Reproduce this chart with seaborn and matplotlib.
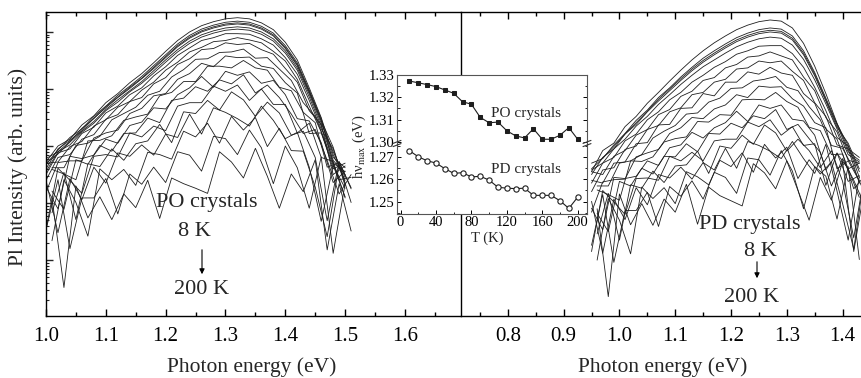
import numpy as np
import pandas as pd
import matplotlib
matplotlib.use("Agg")
import matplotlib.pyplot as plt
import seaborn as sns
from matplotlib.ticker import MultipleLocator, LogLocator, NullFormatter, FormatStrFormatter

# ---------------- data ----------------
temps = [8, 20, 30, 40, 50, 60, 70, 80, 90, 100, 110, 120, 130, 140, 150, 160, 170, 180, 190, 200]

po_energy_a = [1.00, 1.02, 1.04, 1.06, 1.08, 1.10, 1.12, 1.14, 1.16, 1.18, 1.20, 1.22, 1.24,
               1.26, 1.28, 1.30, 1.32, 1.34, 1.36, 1.38, 1.40, 1.42, 1.44, 1.46, 1.48, 1.50]
po_energy_b = [1.01, 1.03, 1.05, 1.07, 1.09, 1.11, 1.13, 1.15, 1.17, 1.19, 1.21, 1.23, 1.25,
               1.27, 1.29, 1.31, 1.33, 1.35, 1.37, 1.39, 1.41, 1.43, 1.45, 1.47, 1.49, 1.51]

# log10 of PL intensity, one row per temperature (PO crystals)
po_log = [
    [2.72, 3.00, 3.12, 3.37, 3.53, 3.76, 3.92, 4.11, 4.27, 4.46, 4.66, 4.85, 5.00, 5.11, 5.18, 5.23, 5.25, 5.23, 5.16, 5.04, 4.82, 4.51, 4.02, 3.50, 2.85, 2.40],
    [2.68, 2.93, 3.15, 3.30, 3.52, 3.70, 3.89, 4.05, 4.22, 4.41, 4.60, 4.79, 4.94, 5.05, 5.12, 5.17, 5.19, 5.17, 5.10, 4.98, 4.76, 4.46, 3.98, 3.48, 2.70, 2.55],
    [2.78, 2.90, 3.08, 3.31, 3.48, 3.69, 3.86, 4.03, 4.19, 4.38, 4.57, 4.76, 4.91, 5.02, 5.09, 5.14, 5.16, 5.14, 5.07, 4.95, 4.73, 4.43, 3.96, 3.45, 2.98, 2.30],
    [2.60, 2.95, 3.10, 3.27, 3.49, 3.67, 3.85, 4.01, 4.18, 4.36, 4.55, 4.74, 4.89, 5.00, 5.07, 5.12, 5.14, 5.12, 5.05, 4.93, 4.71, 4.41, 3.94, 3.44, 2.80, 2.62],
    [2.70, 2.86, 3.07, 3.26, 3.43, 3.64, 3.81, 3.97, 4.13, 4.32, 4.51, 4.69, 4.84, 4.95, 5.02, 5.07, 5.09, 5.07, 5.00, 4.88, 4.67, 4.37, 3.91, 3.40, 2.90, 2.45],
    [2.55, 2.90, 3.02, 3.24, 3.40, 3.62, 3.77, 3.95, 4.10, 4.28, 4.47, 4.65, 4.80, 4.91, 4.98, 5.03, 5.05, 5.03, 4.96, 4.84, 4.63, 4.33, 3.86, 3.35, 2.75, 2.50],
    [2.50, 2.88, 2.95, 3.22, 3.33, 3.58, 3.70, 3.90, 4.02, 4.23, 4.39, 4.59, 4.72, 4.85, 4.90, 4.97, 4.97, 4.96, 4.88, 4.77, 4.55, 4.26, 3.80, 3.30, 2.95, 2.35],
    [2.70, 2.72, 2.99, 3.08, 3.35, 3.46, 3.68, 3.78, 3.98, 4.12, 4.33, 4.47, 4.65, 4.73, 4.83, 4.85, 4.90, 4.86, 4.81, 4.66, 4.49, 4.17, 3.70, 3.25, 2.60, 2.70],
    [2.40, 2.80, 2.85, 3.12, 3.20, 3.47, 3.55, 3.78, 3.85, 4.09, 4.20, 4.43, 4.53, 4.69, 4.71, 4.81, 4.78, 4.80, 4.69, 4.61, 4.36, 4.12, 3.62, 3.38, 2.50, 2.65],
    [2.62, 2.62, 3.01, 3.05, 3.17, 3.46, 3.57, 3.68, 3.89, 3.96, 4.21, 4.34, 4.52, 4.53, 4.64, 4.65, 4.70, 4.54, 4.55, 4.35, 4.15, 3.76, 3.52, 2.99, 2.41, 2.45],
    [2.19, 2.71, 2.74, 2.74, 3.14, 3.23, 3.28, 3.57, 3.66, 3.88, 3.92, 4.17, 4.27, 4.45, 4.39, 4.58, 4.55, 4.56, 4.40, 4.36, 4.11, 3.93, 3.22, 3.23, 2.66, 2.26],
    [2.59, 2.51, 2.41, 3.09, 3.10, 3.18, 3.45, 3.51, 3.56, 3.88, 3.94, 4.13, 4.13, 4.40, 4.40, 4.37, 4.50, 4.37, 4.33, 4.03, 3.97, 3.59, 3.41, 2.63, 2.71, 2.27],
    [2.28, 1.90, 2.82, 2.78, 2.84, 3.12, 3.05, 3.36, 3.42, 3.67, 3.65, 3.90, 4.02, 4.22, 4.03, 4.31, 4.24, 4.30, 4.10, 4.15, 3.90, 3.48, 3.44, 3.06, 2.36, 2.56],
    [2.21, 1.89, 2.76, 2.68, 3.01, 2.91, 3.22, 3.23, 3.49, 3.41, 3.80, 3.84, 4.04, 3.96, 4.16, 4.09, 4.25, 3.93, 4.07, 3.85, 3.56, 3.22, 3.29, 2.75, 2.16, 2.50],
    [1.54, 2.61, 2.40, 2.17, 2.82, 2.85, 2.81, 3.23, 3.16, 3.35, 3.27, 3.70, 3.76, 3.76, 4.05, 3.96, 4.07, 3.80, 4.00, 3.73, 3.73, 3.23, 3.40, 2.80, 2.73, 2.09],
    [1.83, 2.54, 1.71, 2.69, 2.64, 2.95, 2.75, 3.04, 3.09, 3.38, 3.06, 3.60, 3.57, 3.80, 3.63, 3.95, 3.81, 3.52, 3.77, 3.58, 3.19, 3.26, 2.80, 1.69, 2.73, 2.25],
    [2.40, 1.48, 2.43, 2.06, 2.63, 2.35, 2.88, 2.82, 3.02, 2.84, 3.21, 3.15, 3.56, 3.21, 3.67, 3.59, 3.48, 3.35, 3.70, 3.45, 3.13, 3.24, 2.63, 1.68, 2.66, 2.11],
    [1.34, 2.41, 2.01, 1.42, 2.60, 2.41, 2.59, 2.31, 2.89, 2.85, 2.77, 3.26, 3.16, 3.40, 3.05, 3.52, 3.28, 3.50, 2.99, 3.31, 2.92, 2.91, 2.28, 1.41, 2.68, 2.01],
    [1.53, 2.41, 1.20, 2.09, 2.09, 2.43, 1.81, 2.51, 2.33, 2.63, 2.36, 2.90, 2.84, 2.56, 3.17, 3.13, 2.85, 3.28, 2.97, 2.34, 3.00, 2.62, 1.91, 2.81, 1.12, 2.34],
    [2.09, 0.52, 2.30, 1.74, 2.11, 1.71, 2.16, 1.92, 2.40, 1.73, 2.44, 2.34, 2.26, 2.17, 2.90, 2.72, 2.44, 2.96, 2.47, 1.91, 2.51, 2.20, 2.76, 1.18, 2.34, 1.51],
]

pd_energy_a = [0.95, 0.97, 0.99, 1.01, 1.03, 1.05, 1.07, 1.09, 1.11, 1.13, 1.15, 1.17, 1.19,
               1.21, 1.23, 1.25, 1.27, 1.29, 1.31, 1.33, 1.35, 1.37, 1.39, 1.41, 1.43]
pd_energy_b = [0.96, 0.98, 1.00, 1.02, 1.04, 1.06, 1.08, 1.10, 1.12, 1.14, 1.16, 1.18, 1.20,
               1.22, 1.24, 1.26, 1.28, 1.30, 1.32, 1.34, 1.36, 1.38, 1.40, 1.42, 1.44]

# log10 of PL intensity, one row per temperature (PD crystals)
pd_log = [
    [2.55, 2.92, 3.05, 3.34, 3.52, 3.75, 3.94, 4.14, 4.33, 4.51, 4.67, 4.81, 4.93, 5.04, 5.12, 5.18, 5.21, 5.19, 5.07, 4.80, 4.40, 3.92, 3.40, 2.95, 2.80],
    [2.70, 2.78, 3.02, 3.22, 3.45, 3.63, 3.85, 4.02, 4.21, 4.38, 4.54, 4.67, 4.79, 4.90, 4.98, 5.04, 5.07, 5.05, 4.93, 4.67, 4.29, 3.84, 3.39, 3.01, 2.55],
    [2.60, 2.79, 2.99, 3.21, 3.41, 3.61, 3.82, 4.00, 4.18, 4.35, 4.50, 4.63, 4.75, 4.86, 4.94, 5.00, 5.03, 5.01, 4.89, 4.63, 4.26, 3.81, 3.37, 2.90, 2.75],
    [2.50, 2.80, 2.95, 3.21, 3.38, 3.60, 3.79, 3.97, 4.15, 4.32, 4.47, 4.60, 4.72, 4.83, 4.91, 4.97, 5.00, 4.98, 4.86, 4.60, 4.23, 3.79, 3.33, 3.05, 2.60],
    [2.58, 2.70, 2.95, 3.12, 3.35, 3.52, 3.73, 3.90, 4.08, 4.24, 4.39, 4.51, 4.63, 4.74, 4.82, 4.88, 4.91, 4.89, 4.77, 4.52, 4.16, 3.74, 3.30, 2.85, 2.72],
    [2.35, 2.70, 2.80, 3.09, 3.21, 3.46, 3.60, 3.81, 3.94, 4.12, 4.24, 4.38, 4.48, 4.61, 4.67, 4.75, 4.76, 4.76, 4.62, 4.38, 4.03, 3.62, 3.15, 3.00, 2.45],
    [2.55, 2.50, 2.82, 2.92, 3.19, 3.29, 3.55, 3.64, 3.87, 3.96, 4.15, 4.20, 4.37, 4.43, 4.56, 4.58, 4.65, 4.58, 4.51, 4.21, 3.97, 3.50, 3.25, 2.75, 2.70],
    [2.20, 2.58, 2.62, 2.94, 3.00, 3.29, 3.36, 3.60, 3.67, 3.90, 3.94, 4.12, 4.17, 4.35, 4.37, 4.49, 4.46, 4.49, 4.31, 4.15, 3.76, 3.52, 3.02, 2.95, 2.35],
    [2.40, 2.35, 2.70, 2.72, 3.04, 3.06, 3.37, 3.38, 3.66, 3.67, 3.92, 3.88, 4.12, 4.12, 4.30, 4.26, 4.38, 4.28, 4.24, 3.92, 3.75, 3.30, 3.12, 2.60, 2.70],
    [2.30, 2.30, 2.70, 2.74, 2.85, 3.14, 3.26, 3.36, 3.56, 3.58, 3.77, 3.84, 4.01, 4.02, 4.14, 4.17, 4.22, 4.03, 3.97, 3.69, 3.46, 3.01, 2.96, 2.60, 2.17],
    [1.84, 2.37, 2.41, 2.42, 2.81, 2.88, 2.94, 3.22, 3.32, 3.50, 3.48, 3.65, 3.72, 3.90, 3.85, 4.05, 4.03, 4.04, 3.83, 3.70, 3.41, 3.32, 2.60, 2.74, 2.39],
    [2.23, 2.15, 2.05, 2.74, 2.73, 2.81, 3.07, 3.13, 3.16, 3.43, 3.42, 3.55, 3.54, 3.81, 3.82, 3.81, 3.94, 3.78, 3.68, 3.33, 3.27, 2.85, 2.86, 2.25, 2.48],
    [1.91, 1.53, 2.45, 2.43, 2.47, 2.74, 2.66, 2.97, 3.02, 3.24, 3.14, 3.32, 3.41, 3.61, 3.43, 3.72, 3.66, 3.72, 3.47, 3.44, 3.19, 2.58, 2.87, 2.60, 2.10],
    [1.82, 1.50, 2.38, 2.30, 2.61, 2.51, 2.82, 2.81, 3.04, 2.90, 3.22, 3.21, 3.40, 3.32, 3.53, 3.48, 3.64, 3.29, 3.38, 3.13, 2.89, 2.30, 2.78, 2.40, 1.95],
    [1.15, 2.22, 2.02, 1.80, 2.43, 2.44, 2.40, 2.82, 2.74, 2.89, 2.74, 3.09, 3.12, 3.12, 3.42, 3.34, 3.46, 3.19, 3.34, 3.01, 3.04, 2.31, 2.88, 2.38, 2.48],
    [1.46, 2.17, 1.35, 2.32, 2.26, 2.56, 2.36, 2.65, 2.67, 2.91, 2.52, 3.00, 2.96, 3.19, 3.03, 3.37, 3.23, 2.91, 3.12, 2.92, 2.62, 2.92, 2.38, 1.39, 2.55],
    [2.03, 1.12, 2.07, 1.71, 2.27, 1.97, 2.50, 2.44, 2.63, 2.42, 2.71, 2.58, 2.96, 2.61, 3.08, 3.01, 2.91, 2.78, 3.08, 2.78, 2.52, 3.03, 2.21, 1.35, 2.46],
    [1.00, 2.08, 1.70, 1.11, 2.28, 2.08, 2.27, 1.99, 2.55, 2.46, 2.32, 2.75, 2.64, 2.88, 2.54, 3.03, 2.79, 2.98, 2.43, 2.76, 2.51, 2.72, 1.99, 1.19, 2.55],
    [1.26, 2.15, 0.96, 1.87, 1.87, 2.19, 1.59, 2.29, 2.12, 2.39, 2.07, 2.54, 2.45, 2.17, 2.79, 2.76, 2.49, 2.92, 2.56, 1.90, 2.64, 2.47, 1.72, 2.64, 1.01],
    [1.90, 0.36, 2.16, 1.62, 1.99, 1.61, 2.07, 1.84, 2.33, 1.63, 2.28, 2.13, 2.04, 1.95, 2.69, 2.53, 2.25, 2.74, 2.22, 1.70, 2.45, 2.05, 2.73, 1.15, 2.30],
]

inset_T = [10, 20, 30, 40, 50, 60, 70, 80, 90, 100, 110, 120, 130, 140, 150, 160, 170, 180, 190, 200]
inset_po = [1.3273, 1.3265, 1.3257, 1.3248, 1.3233, 1.3218, 1.3180, 1.3169, 1.3110, 1.3086,
            1.3089, 1.3050, 1.3027, 1.3018, 1.3059, 1.3012, 1.3012, 1.3030, 1.3064, 1.3012]
inset_pd = [1.2727, 1.2700, 1.2682, 1.2672, 1.2647, 1.2626, 1.2629, 1.2610, 1.2613, 1.2596,
            1.2564, 1.2560, 1.2558, 1.2560, 1.2528, 1.2528, 1.2528, 1.2504, 1.2470, 1.2520]


def long_frame(energy_a, energy_b, rows):
    recs = []
    for k, (t, row) in enumerate(zip(temps, rows)):
        energy = energy_b if (k >= 9 and k % 2 == 1) else energy_a
        for e, v in zip(energy, row):
            recs.append((t, e, 10.0 ** v))
    return pd.DataFrame(recs, columns=["T", "E", "I"])


df_po = long_frame(po_energy_a, po_energy_b, po_log)
df_pd = long_frame(pd_energy_a, pd_energy_b, pd_log)
df_in = pd.DataFrame({"T": inset_T, "PO": inset_po, "PD": inset_pd})

# ---------------- style ----------------
sns.set_theme(style="ticks")
plt.rcParams["font.family"] = ["Liberation Serif", "DejaVu Serif"]
plt.rcParams["mathtext.fontset"] = "stix"
plt.rcParams["axes.linewidth"] = 1.0

W, H = 861, 378
fig = plt.figure(figsize=(W / 100, H / 100), dpi=100)
fig.patch.set_facecolor("white")


def box(x0, y0, x1, y1):
    return [x0 / W, 1 - y1 / H, (x1 - x0) / W, (y1 - y0) / H]


LINE = "#1e1e1e"
axL = fig.add_axes(box(46, 12, 460, 316))
axR = fig.add_axes(box(461, 12, 861, 316))
for ax in (axL, axR):
    ax.set_facecolor("none")

sns.lineplot(data=df_po, x="E", y="I", units="T", estimator=None, sort=False,
             color=LINE, linewidth=0.6, ax=axL, legend=False)
sns.lineplot(data=df_pd, x="E", y="I", units="T", estimator=None, sort=False,
             color=LINE, linewidth=0.6, ax=axR, legend=False)

ylo, yhi = 10 ** 0.02, 10 ** 5.35
for ax in (axL, axR):
    ax.set_yscale("log")
    ax.set_ylim(ylo, yhi)
    ax.set_xlabel("")
    ax.set_ylabel("")
    ax.xaxis.set_major_locator(MultipleLocator(0.1))
    ax.xaxis.set_minor_locator(MultipleLocator(0.05))
    ax.xaxis.set_major_formatter(FormatStrFormatter("%.1f"))
    ax.tick_params(axis="x", which="both", direction="in", top=True, bottom=True,
                   labelsize=15, pad=8, colors="black")
    ax.tick_params(axis="x", which="major", length=5, width=1)
    ax.tick_params(axis="x", which="minor", length=3, width=1)
    for s in ax.spines.values():
        s.set_color("black")

axL.set_xlim(1.0, 1.692)
axR.set_xlim(0.716, 1.433)

axL.yaxis.set_major_locator(LogLocator(base=10))
axL.yaxis.set_minor_locator(LogLocator(base=10, subs=np.arange(2, 10)))
axL.yaxis.set_major_formatter(NullFormatter())
axL.yaxis.set_minor_formatter(NullFormatter())
axL.tick_params(axis="y", which="both", direction="in", left=True, right=False, labelleft=False)
axL.tick_params(axis="y", which="major", length=5, width=1)
axL.tick_params(axis="y", which="minor", length=2.5, width=0.8)
axL.spines["right"].set_visible(False)

axR.tick_params(axis="y", which="both", left=False, right=False, labelleft=False)
axR.spines["right"].set_visible(False)

# axis labels
fig.text(18 / W, 1 - 167 / H, "Pl Intensity (arb. units)", rotation=90,
         ha="center", va="center", fontsize=15.5)
fig.text(252 / W, 1 - 367 / H, "Photon energy (eV)", ha="center", va="center", fontsize=15.5)
fig.text(663 / W, 1 - 367 / H, "Photon energy (eV)", ha="center", va="center", fontsize=15.5)


def ftext(x, y, s, size=16):
    fig.text(x / W, 1 - y / H, s, ha="center", va="center", fontsize=size)


def farrow(x, y0, y1):
    fig.add_artist(matplotlib.patches.FancyArrowPatch(
        (x / W, 1 - y0 / H), (x / W, 1 - y1 / H), transform=fig.transFigure,
        arrowstyle="-|>,head_length=3,head_width=1.5", color="black", lw=0.8))


ftext(207, 202, "PO crystals")
ftext(194, 232, "8 K")
farrow(202, 247, 277)
ftext(202, 290, "200 K")
ftext(750, 225, "PD crystals")
ftext(760, 252, "8 K")
farrow(757, 259, 281)
ftext(752, 298, "200 K")

# ---------------- inset (broken y axis) ----------------
axU = fig.add_axes(box(397, 75, 587, 143.5))
axD = fig.add_axes(box(397, 143.5, 587, 214))
for ax in (axU, axD):
    ax.set_facecolor("white")
    ax.set_zorder(5)
    ax.set_xlim(-4, 210.5)
    ax.xaxis.set_major_locator(MultipleLocator(40))
    ax.xaxis.set_minor_locator(MultipleLocator(20))
    ax.yaxis.set_major_locator(MultipleLocator(0.01))
    ax.yaxis.set_minor_locator(MultipleLocator(0.005))
    ax.yaxis.set_major_formatter(FormatStrFormatter("%.2f"))
    ax.tick_params(which="both", direction="in", labelsize=10.5, right=True, pad=2,
                   colors="black")
    ax.tick_params(which="major", length=3, width=0.7)
    ax.tick_params(which="minor", length=1.8, width=0.6)
    for s in ax.spines.values():
        s.set_color("#555555")
        s.set_linewidth(0.8)

sns.lineplot(data=df_in, x="T", y="PO", ax=axU, color=LINE, linewidth=0.8,
             marker="s", markersize=3.5, markerfacecolor=LINE, markeredgecolor=LINE)
sns.lineplot(data=df_in, x="T", y="PD", ax=axD, color=LINE, linewidth=0.8,
             marker="o", markersize=3.8, markerfacecolor="white", markeredgecolor=LINE,
             markeredgewidth=0.8)
axU.set_ylim(1.2993, 1.33)
axD.set_ylim(1.2445, 1.2759)
for ax in (axU, axD):
    ax.set_xlabel("")
    ax.set_ylabel("")
axU.spines["bottom"].set_visible(False)
axU.tick_params(axis="x", which="both", bottom=False, top=False, labelbottom=False)
axD.spines["top"].set_visible(False)
axD.tick_params(axis="x", which="both", top=False, pad=1.5)

# break marks
for xb in (397, 587):
    for dy in (-1.6, 1.6):
        fig.add_artist(matplotlib.lines.Line2D(
            [(xb - 4) / W, (xb + 4) / W],
            [1 - (143.5 + dy + 1.5) / H, 1 - (143.5 + dy - 1.5) / H],
            transform=fig.transFigure, color="#333333", lw=0.8, zorder=10))

fig.text(526 / W, 1 - 114 / H, "PO crystals", ha="center", va="center", fontsize=11, zorder=10)
fig.text(526 / W, 1 - 170 / H, "PD crystals", ha="center", va="center", fontsize=11, zorder=10)
fig.text(359 / W, 1 - 147 / H, "h\u03bd$_{\\mathrm{max}}$ (eV)", rotation=90,
         ha="center", va="center", fontsize=10.5, zorder=10)
fig.text(487 / W, 1 - 238 / H, "T (K)", ha="center", va="center", fontsize=10.5, zorder=10)

fig.savefig("out.png", dpi=100, facecolor="white")
